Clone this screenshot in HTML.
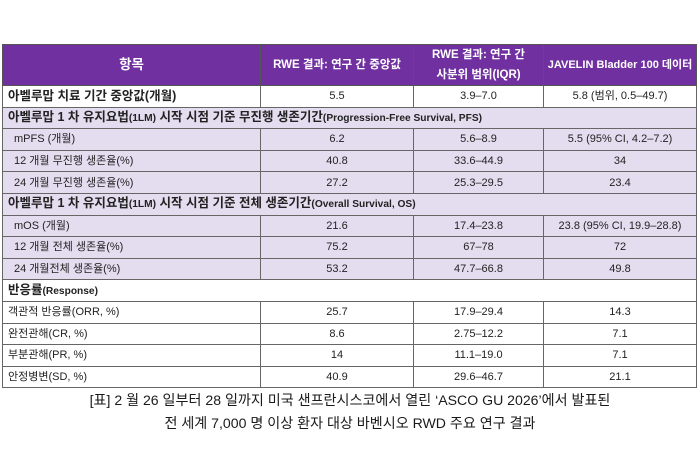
<!DOCTYPE html>
<html><head><meta charset="utf-8">
<style>
html,body{margin:0;padding:0;background:#fff;}
body{width:700px;height:472px;position:relative;overflow:hidden;font-family:"Liberation Sans","Noto Sans CJK KR",sans-serif;color:#222;}
table{position:absolute;left:2px;top:44px;border-collapse:collapse;table-layout:fixed;width:694px;}
td{border:1px solid #666;padding:0;font-size:11px;white-space:nowrap;overflow:hidden;line-height:14px;}
tr.h td{background:#7030a0;color:#fff;font-weight:bold;text-align:center;height:40px;font-size:11.5px;line-height:20px;border-color:#555;}
tr.h td.k{font-size:13.5px;}
tr.r td{height:20.6px;}
td.c{text-align:center;}
td.l{padding-left:5px;}
td.l2{padding-left:11px;}
.w td{background:#fff;}
.p td{background:#e4dcef;}
td.s{font-weight:bold;font-size:12.5px;padding-left:5px;}
td.s span{font-size:10.2px;}
.cap{position:absolute;left:0;width:700px;text-align:center;font-size:14.1px;color:#1a1a1a;white-space:nowrap;}
</style></head><body>
<table>
<colgroup><col style="width:258px"><col style="width:153px"><col style="width:130px"><col style="width:153px"></colgroup>
<tr class="h"><td class="k">항목</td><td>RWE 결과: 연구 간 중앙값</td><td>RWE 결과: 연구 간<br>사분위 범위(IQR)</td><td style="font-size:11px">JAVELIN Bladder 100 데이터</td></tr>
<tr class="r w"><td class="s">아벨루맙 치료 기간 중앙값(개월)</td><td class="c">5.5</td><td class="c">3.9–7.0</td><td class="c">5.8 (범위, 0.5–49.7)</td></tr>
<tr class="r p"><td class="s" colspan="4">아벨루맙 1 차 유지요법<span>(1LM)</span> 시작 시점 기준 무진행 생존기간<span>(Progression-Free Survival, PFS)</span></td></tr>
<tr class="r p"><td class="l2">mPFS (개월)</td><td class="c">6.2</td><td class="c">5.6–8.9</td><td class="c">5.5 (95% CI, 4.2–7.2)</td></tr>
<tr class="r p"><td class="l2">12 개월 무진행 생존율(%)</td><td class="c">40.8</td><td class="c">33.6–44.9</td><td class="c">34</td></tr>
<tr class="r p"><td class="l2">24 개월 무진행 생존율(%)</td><td class="c">27.2</td><td class="c">25.3–29.5</td><td class="c">23.4</td></tr>
<tr class="r p"><td class="s" colspan="4">아벨루맙 1 차 유지요법<span>(1LM)</span> 시작 시점 기준 전체 생존기간<span>(Overall Survival, OS)</span></td></tr>
<tr class="r p"><td class="l2">mOS (개월)</td><td class="c">21.6</td><td class="c">17.4–23.8</td><td class="c">23.8 (95% CI, 19.9–28.8)</td></tr>
<tr class="r p"><td class="l2">12 개월 전체 생존율(%)</td><td class="c">75.2</td><td class="c">67–78</td><td class="c">72</td></tr>
<tr class="r p"><td class="l2">24 개월전체 생존율(%)</td><td class="c">53.2</td><td class="c">47.7–66.8</td><td class="c">49.8</td></tr>
<tr class="r w"><td class="s" colspan="4">반응률<span>(Response)</span></td></tr>
<tr class="r w"><td class="l">객관적 반응률(ORR, %)</td><td class="c">25.7</td><td class="c">17.9–29.4</td><td class="c">14.3</td></tr>
<tr class="r w"><td class="l">완전관해(CR, %)</td><td class="c">8.6</td><td class="c">2.75–12.2</td><td class="c">7.1</td></tr>
<tr class="r w"><td class="l">부분관해(PR, %)</td><td class="c">14</td><td class="c">11.1–19.0</td><td class="c">7.1</td></tr>
<tr class="r w"><td class="l">안정병변(SD, %)</td><td class="c">40.9</td><td class="c">29.6–46.7</td><td class="c">21.1</td></tr>
</table>
<div class="cap" style="top:390px;">[표] 2 월 26 일부터 28 일까지 미국 샌프란시스코에서 열린 ‘ASCO GU 2026’에서 발표된</div>
<div class="cap" style="top:413px;">전 세계 7,000 명 이상 환자 대상 바벤시오 RWD 주요 연구 결과</div>
</body></html>
